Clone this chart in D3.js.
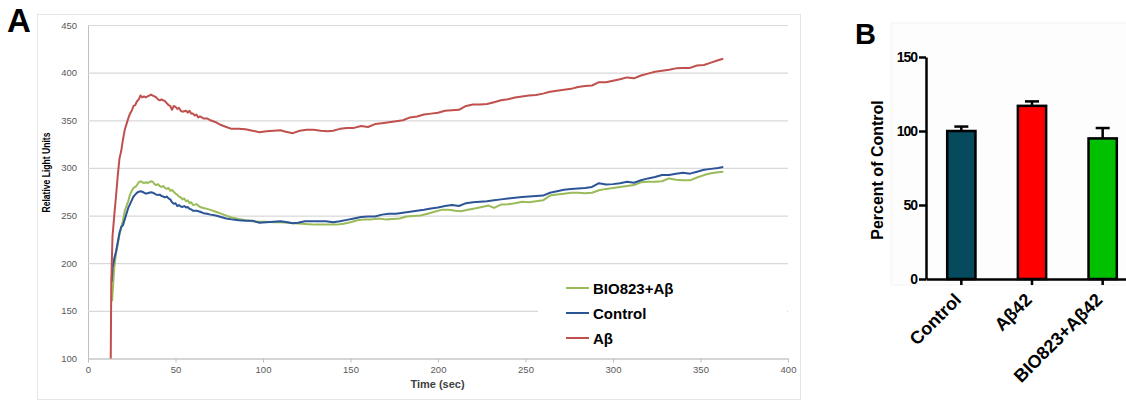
<!DOCTYPE html>
<html>
<head>
<meta charset="utf-8">
<title>Relative light units / percent of control</title>
<script src="https://d3js.org/d3.v7.min.js"></script>
<style>
body { margin:0; background:#fff; }
svg { display:block; font-family: Arial, "Liberation Sans", sans-serif; }
</style>
</head>
<body>
<script>
// ---- panel A data (time in sec, relative light units) ----
var abTime = [13,13.3,14,15,16,17,18,19,20,21,22,23,24,25,26,27,28,29,30,31,32,33,34,35,36,37,38,39,40,41,42,43,44,45,46,47,48,49,50,51,52,53,54,56,57,58,59,60,61,62,63,64,66,68,70,73,76,79,82,86,90,94,98,102,106,110,113,117,121,125,129,133,137,140,144,148,152,156,160,164,168,172,176,180,184,188,192,196,200,204,208,212,216,220,224,228,232,236,240,244,248,252,256,260,264,268,272,276,280,284,288,292,296,300,304,308,312,316,320,324,328,332,336,340,344,348,352,356,360,363];
var abValues = [100,180,228,250,270,292,310,318,330,340,346,352,357,360,365,366,370,372,376,374,375,374,375,376,377,376,375,374,372,371,372,371,370,368,366,365,361,365,364,362,363,360,359,360,358,360,357,357,355,356,353,354,352,352,350,348,345,343,341,341,340.5,339,337.5,338.5,339,339.5,338,336.5,339,340,340,339,338.5,339,341,342,342,344,343,346,347,348,349,350,353,354,356,357,358,360,360.5,361,365,366.5,366.5,367,369,371,372,374,375,376,376.5,378,380,381,382,383,385,386,386.5,390,390,391.5,393,395,394,397,399,401,402,403,404.5,405,405,407.5,408,410.5,413,414.5];

var controlTime = [13.5,14,15,16,17,18,19,20,21,22,23,24,25,26,27,28,29,30,31,32,33,34,35,36,37,38,39,40,41,42,43,44,45,46,47,48,49,50,51,52,53,54,55,56,57,58,59,60,62,64,66,68,70,73,76,79,82,86,90,94,98,102,106,110,114,117,120,124,128,132,136,140,144,148,152,156,160,164,168,172,176,180,184,188,192,196,200,204,208,212,216,220,224,228,232,236,240,244,248,252,256,260,264,268,272,276,280,284,288,292,296,300,304,308,312,316,320,324,328,332,336,340,344,348,352,356,360,363];
var controlValues = [180,195,205,212,222,232,238,240,246,252,258,262,266,270,272,274,275,275.5,275,274,273,273.5,274,274.5,274,273,272,271.5,272,270.5,270,269,270,268,267,264,262.5,263,260,261,259.5,259,260,258.5,259,257,256.5,255,255,254,252.5,252,251,250,248.5,247,246,245,244.5,244.5,242.5,243,243.5,244,243,242,242.5,244,244,244,244,243,244,245.5,247,248.5,249,249,251,252,252,253,254,255,256,257.5,258.5,260,261,260,263,264,264.5,265,266,267,268,268.8,269.5,270,270.5,271,274,275.5,277,278,278.5,279,280,284,282.5,283,284,285.5,284.5,287,289,290.5,292.5,292.5,294,295,294,296,298,299,300,301];

var bioTime = [13.8,14,15,16,17,18,19,20,21,22,23,24,25,26,27,28,29,30,31,32,33,34,35,36,37,38,39,40,41,42,43,44,45,46,47,48,49,50,51,52,53,54,55,56,57,58,59,60,62,64,66,68,70,73,76,79,82,86,90,94,98,102,106,110,114,118,122,126,130,134,138,142,146,150,154,158,162,166,170,174,178,182,186,190,194,198,202,206,210,213,217,221,225,229,232,236,240,244,248,252,256,260,264,268,272,276,280,284,288,292,296,300,304,308,312,316,320,324,328,332,336,340,344,348,352,356,360,363];
var bioValues = [160,168,195,210,220,230,238,245,255,260,265,272,276,279,280,282,285,286,285,284,285,284,285,286,285.5,283,282,283,281,280,281,279,278,279,276,277,275,273,272,270,269,267,268,265,266,263,264,261,262,259,258,257,256,254,252,250,248,246.5,245,244,243.5,243.6,243,243,242.5,242,241.5,241,240.5,240.5,240.5,240.5,241.5,243,245,246,246,247,246,246.5,247,249,249.5,250,252,254,256,256,255,254.5,256,257.5,259,260.5,258,261.5,262,263,264.5,264,265,266,271,272,273,274,274,273.5,274,276.5,278,279,280,281,282,285,285.5,285.5,286,289,287.5,287,287,290,292.5,294.5,295.5,296];

var seriesNames = ["BIO823+A\u03b2", "Control", "A\u03b2"];
var seriesColors = ["#9bbb59", "#2c5597", "#c0504d"];
var xTicksA = [0,50,100,150,200,250,300,350,400];
var yTicksA = [100,150,200,250,300,350,400,450];

// ---- panel B data ----
var groups = ["Control", "A\u03b242", "BIO823+A\u03b242"];
var percentValues = [100, 117, 95];
var percentErrors = [3, 3, 7];
var barColors = ["#064a5e", "#ff0000", "#00c000"];
var yTicksB = [0, 50, 100, 150];

var width = 1126, height = 400;
var svg = d3.select("body").append("svg").attr("width", width).attr("height", height);

// ================= panel A =================
svg.append("rect").attr("x", 37.5).attr("y", 14.5).attr("width", 763).attr("height", 385)
  .attr("fill", "#fff").attr("stroke", "#e6e6e6");

var x = d3.scaleLinear().domain([0, 400]).range([88, 788]);
var y = d3.scaleLinear().domain([100, 450]).range([358.5, 25]);

var gy = svg.append("g").attr("transform", "translate(88,0)")
  .call(d3.axisLeft(y).tickValues(yTicksA).tickSizeInner(-700).tickSizeOuter(0).tickPadding(11));
gy.select(".domain").attr("stroke", "#bfbfbf");
gy.selectAll(".tick line").attr("stroke", "#d9d9d9").attr("stroke-width", 1.2);
gy.selectAll(".tick text").attr("fill", "#595959").attr("font-size", 9.5);

var gx = svg.append("g").attr("transform", "translate(0,358.5)")
  .call(d3.axisBottom(x).tickValues(xTicksA).tickSizeInner(4).tickSizeOuter(0).tickPadding(4));
gx.select(".domain").attr("stroke", "#bfbfbf");
gx.selectAll(".tick line").attr("stroke", "#bfbfbf");
gx.selectAll(".tick text").attr("fill", "#595959").attr("font-size", 9.5);

svg.append("text").attr("x", 437.5).attr("y", 388).attr("text-anchor", "middle")
  .attr("font-size", 11).attr("font-weight", "bold").attr("fill", "#404040").text("Time (sec)");
svg.append("text").attr("transform", "translate(50,172.5) rotate(-90)").attr("text-anchor", "middle")
  .attr("font-size", 10).attr("font-weight", "bold").attr("fill", "#000")
  .attr("textLength", 80).attr("lengthAdjust", "spacingAndGlyphs").text("Relative Light Units");

var line = d3.line().x(function(d){ return x(d[0]); }).y(function(d){ return y(d[1]); });
var seriesData = [
  d3.zip(bioTime, bioValues),
  d3.zip(controlTime, controlValues),
  d3.zip(abTime, abValues)
];
svg.selectAll("path.series").data(seriesData).enter().append("path")
  .attr("class", "series")
  .attr("d", line)
  .attr("fill", "none")
  .attr("stroke", function(d,i){ return seriesColors[i]; })
  .attr("stroke-width", 2)
  .attr("stroke-linejoin", "round");

// legend
svg.append("rect").attr("x", 538).attr("y", 272).attr("width", 249).attr("height", 80).attr("fill", "#fff");
var leg = svg.selectAll("g.leg").data(seriesNames).enter().append("g").attr("class", "leg")
  .attr("transform", function(d,i){ return "translate(566," + (288 + i*25) + ")"; });
leg.append("line").attr("x1", 0).attr("x2", 23).attr("y1", 0).attr("y2", 0)
  .attr("stroke", function(d,i){ return seriesColors[i]; }).attr("stroke-width", 2);
leg.append("text").attr("x", 27).attr("y", 5.5).attr("font-size", 15).attr("font-weight", "bold")
  .text(function(d){ return d; });

svg.append("text").attr("x", 7).attr("y", 32).attr("font-size", 33).attr("font-weight", "bold").text("A");

// ================= panel B =================
svg.append("rect").attr("x", 891).attr("y", 23).attr("width", 240).attr("height", 262)
  .attr("fill", "#fdfdfd").attr("stroke", "#f3f3f3");

var xB = d3.scaleBand().domain(groups).range([926, 1138]).paddingInner(0.6).paddingOuter(0.3);
var yB = d3.scaleLinear().domain([0, 150]).range([279, 57]);

svg.selectAll("rect.bar").data(percentValues).enter().append("rect")
  .attr("class", "bar")
  .attr("x", function(d,i){ return xB(groups[i]); })
  .attr("y", function(d){ return yB(d); })
  .attr("width", xB.bandwidth())
  .attr("height", function(d){ return yB(0) - yB(d); })
  .attr("fill", function(d,i){ return barColors[i]; })
  .attr("stroke", "#000").attr("stroke-width", 2.5);

var err = svg.selectAll("g.err").data(percentValues).enter().append("g").attr("class", "err");
err.append("line")
  .attr("x1", function(d,i){ return xB(groups[i]) + xB.bandwidth()/2; })
  .attr("x2", function(d,i){ return xB(groups[i]) + xB.bandwidth()/2; })
  .attr("y1", function(d){ return yB(d); })
  .attr("y2", function(d,i){ return yB(d + percentErrors[i]); })
  .attr("stroke", "#000").attr("stroke-width", 2.5);
err.append("line")
  .attr("x1", function(d,i){ return xB(groups[i]) + xB.bandwidth()/2 - 7; })
  .attr("x2", function(d,i){ return xB(groups[i]) + xB.bandwidth()/2 + 7; })
  .attr("y1", function(d,i){ return yB(d + percentErrors[i]); })
  .attr("y2", function(d,i){ return yB(d + percentErrors[i]); })
  .attr("stroke", "#000").attr("stroke-width", 2.5);

var gyB = svg.append("g").attr("transform", "translate(926,0)")
  .call(d3.axisLeft(yB).tickValues(yTicksB).tickSizeInner(7).tickSizeOuter(0).tickPadding(2));
gyB.select(".domain").attr("stroke", "#000").attr("stroke-width", 2.5);
gyB.selectAll(".tick line").attr("stroke", "#000").attr("stroke-width", 2.5);
gyB.selectAll(".tick text").attr("fill", "#000").attr("font-size", 14).attr("font-weight", "bold")
  .attr("letter-spacing", -1);

var gxB = svg.append("g").attr("transform", "translate(0,279)")
  .call(d3.axisBottom(xB).tickSizeInner(6).tickSizeOuter(0).tickPadding(6));
gxB.select(".domain").attr("stroke", "#000").attr("stroke-width", 2.5);
gxB.selectAll(".tick line").attr("stroke", "#000").attr("stroke-width", 2.5);
gxB.selectAll(".tick text").attr("fill", "#000").attr("font-size", 18).attr("font-weight", "bold")
  .attr("text-anchor", "end").attr("dy", 0)
  .attr("transform", "translate(1,22) rotate(-45)").attr("x", 0).attr("y", 0);

svg.append("text").attr("transform", "translate(883,170) rotate(-90)").attr("text-anchor", "middle")
  .attr("font-size", 16).attr("font-weight", "bold").text("Percent of Control");

svg.append("text").attr("x", 855).attr("y", 44).attr("font-size", 29).attr("font-weight", "bold").text("B");
</script>
</body>
</html>
